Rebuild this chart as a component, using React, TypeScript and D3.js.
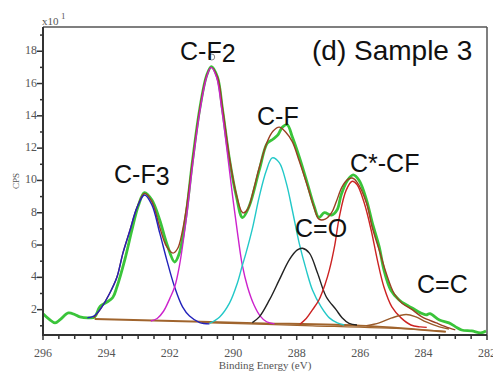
import React from "react";
import * as d3 from "d3";

// XPS C1s spectrum, values in CPS x10 vs binding energy (eV)
const measured: [number, number][] = [
  [296.0, 1.75], [295.8, 1.4], [295.62, 1.18], [295.45, 1.4], [295.2, 1.8], [295.0, 1.7],
  [294.84, 1.55], [294.52, 1.49], [294.37, 1.55], [294.2, 2.2], [294.0, 2.45], [293.8, 2.75],
  [293.67, 3.4], [293.42, 5.1], [293.2, 6.9], [293.0, 8.4], [292.8, 9.25], [292.57, 8.8],
  [292.32, 7.55], [292.1, 6.1], [291.85, 4.95], [291.7, 5.5], [291.5, 7.7], [291.28, 11.3],
  [291.06, 14.4], [290.84, 16.5], [290.69, 17.05], [290.5, 16.4], [290.34, 14.4], [290.12, 11.3],
  [289.9, 9.0], [289.71, 7.7], [289.5, 8.4], [289.18, 10.65], [288.93, 12.3], [288.75, 12.55],
  [288.6, 12.8], [288.45, 13.3], [288.3, 13.45], [288.14, 12.7], [287.92, 11.45], [287.67, 9.85],
  [287.45, 8.4], [287.3, 7.7], [287.13, 8.0], [286.9, 7.85], [286.72, 8.2], [286.6, 9.1],
  [286.4, 10.0], [286.22, 10.35], [286.03, 10.0], [285.8, 8.8], [285.62, 7.4], [285.4, 5.9],
  [285.25, 4.46], [285.03, 3.2], [284.77, 2.6], [284.55, 2.3], [284.36, 2.1], [284.1, 1.8],
  [283.92, 1.67], [283.8, 1.75], [283.5, 1.36], [283.2, 1.18], [283.0, 0.95], [282.8, 0.74],
  [282.48, 0.68], [282.2, 0.56], [282.03, 0.68],
];

const envelope: [number, number][] = [
  [294.4, 1.5], [294.2, 2.0], [293.9, 3.0], [293.67, 4.0], [293.48, 5.5], [293.26, 6.9],
  [293.04, 8.3], [292.8, 9.2], [292.57, 8.7], [292.32, 7.1], [292.1, 5.9], [291.9, 5.5],
  [291.75, 5.8], [291.6, 6.9], [291.47, 8.4], [291.28, 11.3], [291.06, 14.4], [290.84, 16.5],
  [290.7, 17.0], [290.5, 16.4], [290.34, 14.5], [290.12, 11.4], [289.9, 9.1], [289.7, 8.0],
  [289.55, 8.2], [289.35, 9.5], [289.18, 10.8], [288.93, 12.4], [288.75, 13.05], [288.55, 13.3],
  [288.35, 13.0], [288.14, 12.4], [287.92, 11.2], [287.67, 9.7], [287.45, 8.3], [287.3, 7.6],
  [287.1, 7.6], [286.9, 8.0], [286.75, 8.7], [286.57, 9.6], [286.4, 10.05], [286.25, 10.15],
  [286.1, 9.9], [285.8, 8.6], [285.62, 7.1], [285.4, 5.7], [285.18, 4.27], [284.93, 3.0],
  [284.68, 2.4], [284.36, 2.0], [284.05, 1.55], [283.6, 1.18], [283.2, 0.87], [283.0, 0.75],
];

const cf3: [number, number][] = [
  [294.6, 1.5], [294.4, 1.6], [294.2, 2.0], [293.9, 3.0], [293.67, 4.0], [293.48, 5.5],
  [293.26, 6.9], [293.04, 8.3], [292.8, 9.1], [292.57, 8.5], [292.32, 6.75], [292.1, 5.1],
  [291.85, 3.4], [291.6, 2.17], [291.38, 1.6], [291.06, 1.2], [290.75, 1.12],
];

const cf2: [number, number][] = [
  [292.6, 1.3], [292.4, 1.45], [292.2, 1.9], [292.0, 2.7], [291.85, 3.4], [291.7, 4.7],
  [291.47, 7.8], [291.28, 11.0], [291.06, 14.2], [290.84, 16.4], [290.7, 17.0], [290.53, 16.4],
  [290.37, 14.5], [290.2, 11.9], [290.02, 9.0], [289.85, 6.5], [289.72, 4.8], [289.55, 3.4],
  [289.35, 2.3], [289.15, 1.6], [288.95, 1.25], [288.7, 1.12],
];

const cf: [number, number][] = [
  [290.75, 1.15], [290.43, 1.55], [290.12, 2.4], [289.87, 3.65], [289.72, 4.7], [289.6, 5.5],
  [289.4, 7.0], [289.18, 9.0], [288.96, 10.6], [288.77, 11.4], [288.55, 11.1], [288.33, 9.85],
  [288.14, 8.17], [287.92, 6.1], [287.7, 4.46], [287.5, 3.2], [287.23, 2.17], [286.97, 1.49],
  [286.72, 1.18], [286.5, 1.05],
];

const co: [number, number][] = [
  [289.4, 1.2], [289.18, 1.55], [288.86, 2.6], [288.55, 3.84], [288.23, 5.1], [287.98, 5.7],
  [287.82, 5.8], [287.6, 5.5], [287.35, 4.3], [287.07, 2.8], [286.76, 2.0], [286.57, 1.5],
  [286.35, 1.15], [286.1, 1.05],
];

const ccf: [number, number][] = [
  [287.9, 1.1], [287.7, 1.45], [287.5, 2.0], [287.3, 2.6], [287.1, 3.6], [286.97, 4.46],
  [286.8, 6.0], [286.66, 7.7], [286.44, 9.4], [286.25, 9.95], [286.1, 9.75], [285.87, 8.6],
  [285.65, 6.9], [285.46, 5.1], [285.25, 3.4], [285.0, 2.17], [284.71, 1.49], [284.4, 1.05],
  [284.1, 0.93], [283.9, 0.9],
];

const cc: [number, number][] = [
  [285.8, 1.0], [285.4, 1.18], [285.0, 1.49], [284.55, 1.7], [284.24, 1.55], [283.92, 1.24],
  [283.5, 0.93], [283.2, 0.8],
];

const baseline: [number, number][] = [
  [294.37, 1.42], [289.58, 1.18], [285.8, 0.99], [283.3, 0.62],
];
const baseline2: [number, number][] = [
  [291.0, 1.2], [287.5, 1.0], [284.5, 0.8], [283.3, 0.66],
];

const components = [
  { name: "C-F3", points: cf3, color: "#2222bb" },
  { name: "C-F2", points: cf2, color: "#cc22cc" },
  { name: "C-F", points: cf, color: "#22c8c8" },
  { name: "C=O", points: co, color: "#222222" },
  { name: "C*-CF", points: ccf, color: "#cc2222" },
  { name: "C=C", points: cc, color: "#9a5a2a" },
];

const xTicks = d3.range(282, 296.01, 0.5);
const xLabels = [296, 294, 292, 290, 288, 286, 284, 282];
const yTicks = d3.range(1, 19.01, 1);
const yLabels = [2, 4, 6, 8, 10, 12, 14, 16, 18];

const W = 493;
const H = 372;
const left = 43, right = 487, top = 27, bottom = 335;

export default function App() {
  const x = d3.scaleLinear().domain([296, 282]).range([left, right]);
  const y = d3.scaleLinear().domain([0.43, 19.5]).range([bottom, top]);
  const line = d3
    .line<[number, number]>()
    .x((d) => x(d[0]))
    .y((d) => y(d[1]))
    .curve(d3.curveCatmullRom.alpha(0.5));
  const serif = "'Liberation Serif', 'Times New Roman', serif";
  const sans = "'Liberation Sans', Arial, sans-serif";

  return (
    <svg
      width={W}
      height={H}
      style={{ position: "absolute", left: 0, top: 0, background: "#fff" }}
    >
      <rect x={0} y={0} width={W} height={H} fill="#fff" />

      {/* measured data */}
      <path d={line(measured) || ""} fill="none" stroke="#3ac43a" strokeWidth={2.8} />
      {/* baselines */}
      <path d={line(baseline) || ""} fill="none" stroke="#a0642d" strokeWidth={1.8} />
      <path d={line(baseline2) || ""} fill="none" stroke="#a0642d" strokeWidth={1.2} />
      {/* fitted envelope */}
      <path d={line(envelope) || ""} fill="none" stroke="#9a3f22" strokeWidth={1.4} />
      {components.map((c) => (
        <path key={c.name} d={line(c.points) || ""} fill="none" stroke={c.color} strokeWidth={1.4} />
      ))}

      {/* frame */}
      <line x1={left} x2={right} y1={top} y2={top} stroke="#555" strokeWidth={1.5} />
      <line x1={right} x2={right} y1={top} y2={bottom} stroke="#555" strokeWidth={1.5} />
      <line x1={left} x2={left} y1={top} y2={bottom + 1} stroke="#333" strokeWidth={2} />
      <line x1={left - 1} x2={right} y1={bottom} y2={bottom} stroke="#333" strokeWidth={2} />

      {/* x axis */}
      {xTicks.map((t) => (
        <line
          key={"xt" + t}
          x1={x(t)}
          x2={x(t)}
          y1={bottom}
          y2={bottom + (t % 2 === 0 ? 5 : 4)}
          stroke="#333"
          strokeWidth={1.5}
        />
      ))}
      {xLabels.map((t) => (
        <text key={"xl" + t} x={x(t)} y={357} textAnchor="middle" fontFamily={serif} fontSize={12} fill="#555">
          {t}
        </text>
      ))}
      <text x={265} y={369} textAnchor="middle" fontFamily={serif} fontSize={11} fill="#555">
        Binding Energy (eV)
      </text>

      {/* y axis */}
      {yTicks.map((t) => (
        <line
          key={"yt" + t}
          x1={left - (t % 2 === 0 ? 6 : 3)}
          x2={left}
          y1={y(t)}
          y2={y(t)}
          stroke="#333"
          strokeWidth={1.5}
        />
      ))}
      {yLabels.map((t) => (
        <text key={"yl" + t} x={37} y={y(t) + 3} textAnchor="end" fontFamily={serif} fontSize={12} fill="#555">
          {t}
        </text>
      ))}
      <text x={42} y={25} fontFamily={serif} fontSize={11} fill="#555">
        x10
      </text>
      <text x={61} y={19} fontFamily={serif} fontSize={9} fill="#555">
        1
      </text>
      <text
        transform={`translate(19,${181}) rotate(-90)`}
        textAnchor="middle"
        fontFamily={serif}
        fontSize={9}
        fill="#555"
      >
        CPS
      </text>

      {/* peak cursor */}
      <circle cx={x(290.68)} cy={y(17.64)} r={3} fill="none" stroke="#888" strokeWidth={1} />

      {/* labels */}
      <g fontFamily={sans} fontSize={25} fill="#111">
        <text x={114} y={183}>
          C-F<tspan dy={2}>3</tspan>
        </text>
        <text x={180} y={60}>
          C-F<tspan dy={2}>2</tspan>
        </text>
        <text x={312} y={60} fontSize={28}>(d) Sample 3</text>
        <text x={257} y={125}>C-F</text>
        <text x={350} y={172}>C*-CF</text>
        <text x={295} y={237}>C=O</text>
        <text x={417} y={293}>C=C</text>
      </g>
    </svg>
  );
}
